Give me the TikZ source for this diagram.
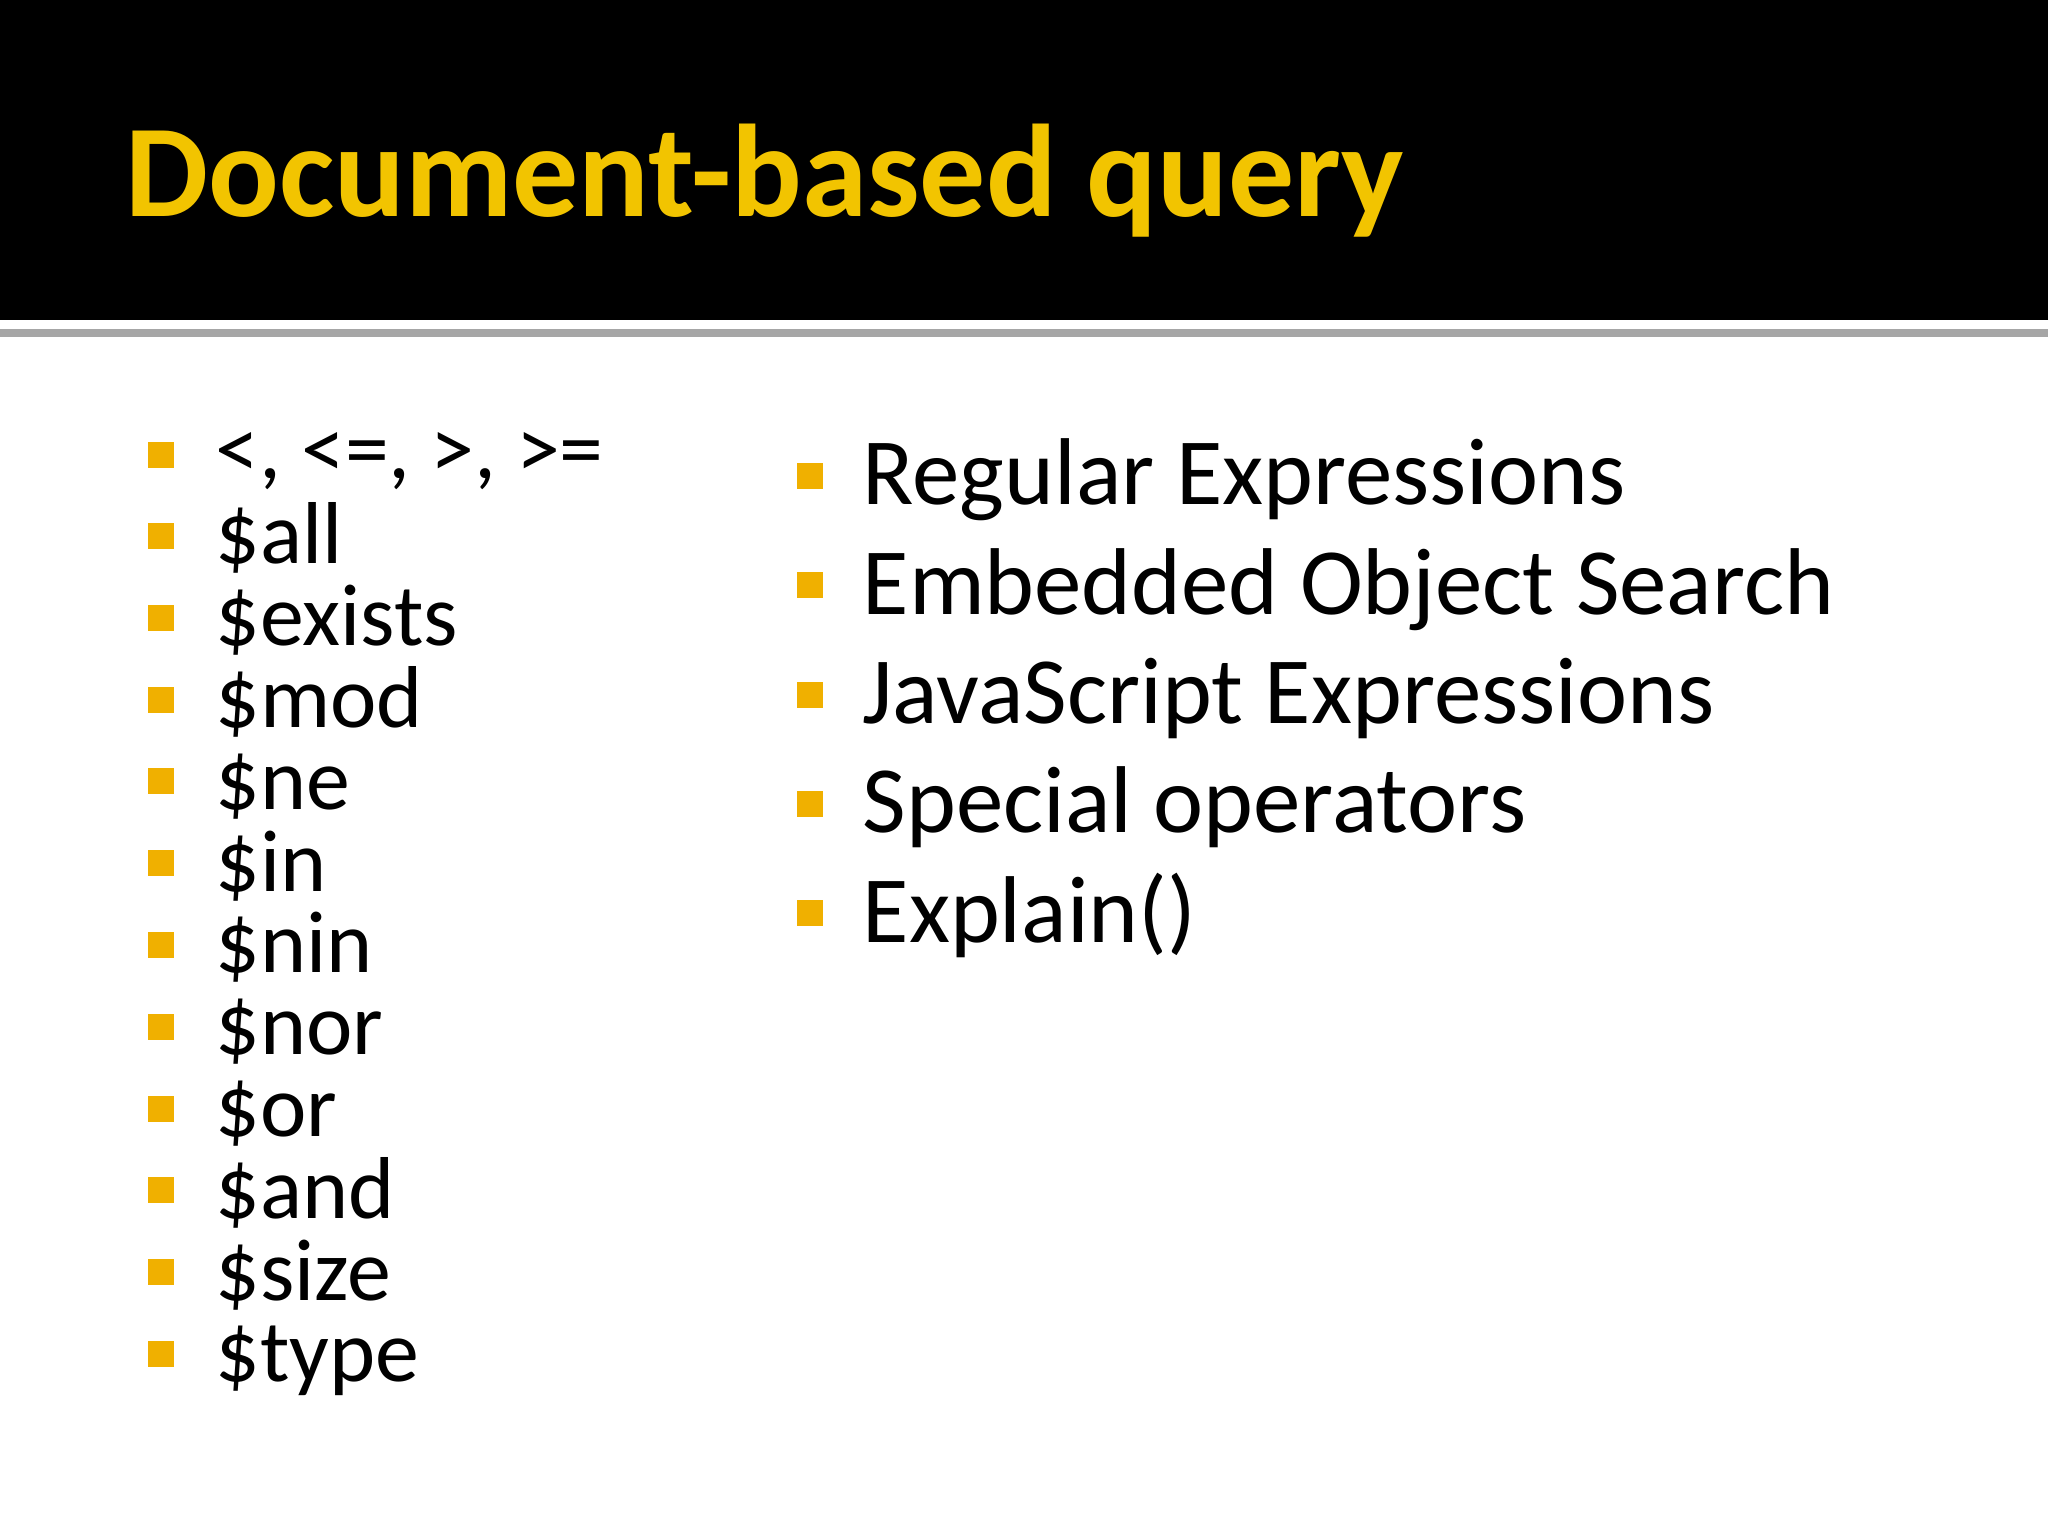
\documentclass[tikz,border=0pt]{standalone}
\usepackage{fontspec}
\setmainfont{Carlito}
\begin{document}
\begin{tikzpicture}[x=1cm,y=1cm,
  bul/.style={fill=bulletc,draw=none,minimum size=0.26cm,inner sep=0pt},
  itm/.style={anchor=base west,inner sep=0pt,font=\fontsize{25}{28}\selectfont},
  ritm/.style={anchor=base west,inner sep=0pt,font=\fontsize{27}{30}\selectfont}]
\definecolor{bulletc}{HTML}{F0B000}
\definecolor{titlec}{HTML}{F2C400}
\useasboundingbox (0,0) rectangle (20.48,-15.36);
\fill[white] (0,0) rectangle (20.48,-15.36);
\fill[black] (0,0) rectangle (20.48,-3.20);
\draw[gray!70,line width=2pt] (0,-3.33) -- (20.48,-3.33);
\node[anchor=base west,inner sep=0pt,text=titlec,font=\bfseries\fontsize{37.5}{40}\selectfont] (title) at (1.25,-2.17) {Document-based query};
% left list
\foreach \t [count=\i] in {{\$all},{\$exists},{\$mod},{\$ne},{\$in},{\$nin},{\$nor},{\$or},{\$and},{\$size},{\$type}}{
  \node[itm] (l\i) at (2.15,{-5.64-(\i-1)*0.818}) {\t};
  \node[bul] (bl\i) at (1.61,{-5.36-(\i-1)*0.818}) {};
}
\node[anchor=base west,inner sep=0pt,font=\fontsize{25}{28}\selectfont] (l0) at (2.15,-4.79) {<, <=, >, >=};
\node[bul] (bl0) at (1.61,-4.55) {};
% right list
\foreach \t [count=\i] in {{Regular Expressions},{Embedded Object Search},{JavaScript Expressions},{Special operators},{Explain()}}{
  \node[ritm] (r\i) at (8.62,{-5.05-(\i-1)*1.093}) {\t};
  \node[bul] (br\i) at (8.10,{-4.76-(\i-1)*1.093}) {};
}
\end{tikzpicture}
\end{document}
